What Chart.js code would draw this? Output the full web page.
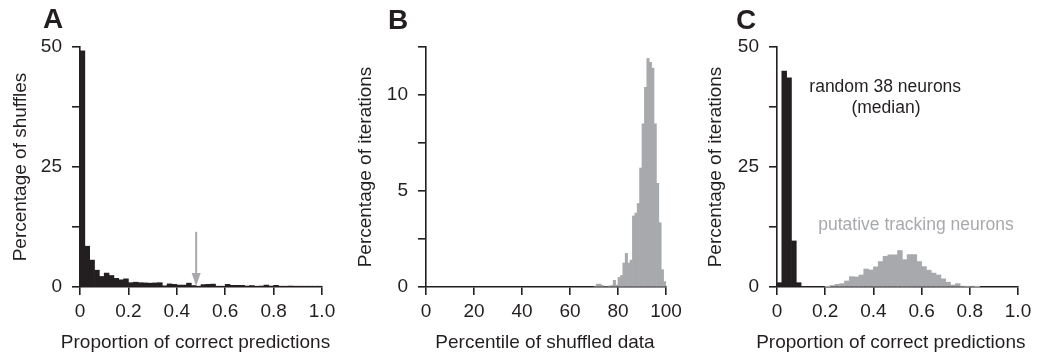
<!DOCTYPE html>
<html>
<head>
<meta charset="utf-8">
<script src="https://cdn.jsdelivr.net/npm/chart.js@4"></script>
<style>
  body { margin: 0; background: #fff; }
  #wrap { position: relative; width: 1037px; height: 355px; }
  canvas { position: absolute; top: 0; }
</style>
</head>
<body>
<div id="wrap">
  <canvas id="chartA" width="345" height="355" style="left:0"></canvas>
  <canvas id="chartB" width="345" height="355" style="left:345px"></canvas>
  <canvas id="chartC" width="347" height="355" style="left:690px"></canvas>
</div>
<script>
// ----- Data -----
// A: % of shuffles per 0.02 bin of proportion correct, starting at 0
const binA = { start: 0, width: 0.02 };
const shufflesA = [49.2, 8.5, 5.6, 3.5, 2.2, 2.9, 2.4, 1.8, 1.5, 1.7,
  0.9, 1.0, 0.9, 0.85, 0.8, 0.85, 0.9, 0.25, 0.65, 0.55,
  0.4, 0.4, 0.8, 0.3, 0.15, 0.5, 0.55, 0.6, 0.15, 0.1,
  0.55, 0.35, 0.35, 0.35, 0.2, 0.3, 0.15, 0.2, 0.4, 0.2,
  0.35, 0.15, 0.1, 0.2, 0.1, 0.1, 0.05, 0.05, 0.03, 0.03];
const arrowA = { x: 0.48, from: 11.5, to: 0.2 };

// B: % of iterations per 1-percentile bin, starting at 70
const binB = { start: 70, width: 1 };
const iterationsB = [0.05, 0.15, 0.15, 0.08, 0, 0, 0.05, 0.08, 0.35, 0.1,
  0.5, 0.6, 1.25, 1.75, 1.25, 1.4, 3.7, 3.85, 4.35, 6.2,
  8.5, 10.4, 11.9, 11.7, 11.4, 8.5, 5.4, 3.35, 0.9, 0.28];

// C: random 38 neurons (black) and putative tracking neurons (gray), 0.02 bins
const binCRandom = { start: 0, width: 0.02 };
const randomC = [0.9, 45, 43.6, 9.6, 0.9];
const binCTracking = { start: 0.2, width: 0.02 };
const trackingC = [0.05, 0.3, 0.55, 0.7, 1.25, 2.15, 2.1, 2.5, 3.75, 3.55,
  4.2, 5.3, 6.4, 6.7, 6.7, 7.6, 5.7, 6.75, 6.75, 5.3,
  4.25, 3.5, 2.9, 2.5, 1.7, 1.0, 0.4, 0.7, 0.15, 0.1, 0.15, 0.05];

const INK = '#231f20';
const GRAY = '#a7a9ac';
const FONT = '"Liberation Sans", Arial, sans-serif';

function toBars(bin, values) {
    return values.map((v, i) => ({ x: bin.start + bin.width * (i + 0.5), y: v }));
}

function histSet(bin, values, color) {
    return {
        data: toBars(bin, values), backgroundColor: color, borderWidth: 0,
        barPercentage: 1, categoryPercentage: 1, grouped: false
    };
}

// panel letters, x titles, annotations and the arrow
const panelText = {
    id: 'panelText',
    afterDraw(chart, args, opts) {
        const ctx = chart.ctx;
        const xs = chart.scales.x, ys = chart.scales.y;
        ctx.save();
        ctx.textBaseline = 'alphabetic';
        (opts.items || []).forEach(t => {
            ctx.font = t.font;
            ctx.fillStyle = t.color || INK;
            ctx.textAlign = t.align || 'left';
            const px = t.px != null ? t.px : xs.getPixelForValue(t.x);
            const py = t.py != null ? t.py : ys.getPixelForValue(t.y);
            ctx.fillText(t.text, px, py);
        });
        if (opts.arrow) {
            const a = opts.arrow;
            const px = xs.getPixelForValue(a.x);
            const y0 = ys.getPixelForValue(a.from);
            const y1 = ys.getPixelForValue(a.to);
            ctx.strokeStyle = GRAY;
            ctx.fillStyle = GRAY;
            ctx.lineWidth = 2;
            ctx.beginPath();
            ctx.moveTo(px, y0);
            ctx.lineTo(px, y1 - 10);
            ctx.stroke();
            ctx.beginPath();
            ctx.moveTo(px - 4.5, y1 - 13);
            ctx.lineTo(px + 4.5, y1 - 13);
            ctx.lineTo(px, y1);
            ctx.closePath();
            ctx.fill();
        }
        ctx.restore();
    }
};

function makeHist(id, cfg) {
    const gridOpts = { drawOnChartArea: false, drawTicks: true, tickLength: 8, color: INK, lineWidth: 1.6 };
    const borderOpts = { display: true, color: INK, width: 1.6 };
    const texts = cfg.texts.concat([
        { text: cfg.xTitle, font: '19px ' + FONT, align: 'center', px: cfg.xTitleX, py: 348 }
    ]);
    return new Chart(document.getElementById(id), {
        type: 'bar',
        data: { datasets: cfg.datasets },
        options: {
            responsive: false,
            animation: false,
            layout: { padding: { top: 47, right: cfg.padRight, bottom: 0, left: 0 } },
            plugins: {
                legend: { display: false },
                tooltip: { enabled: false },
                panelText: { items: texts, arrow: cfg.arrow }
            },
            scales: {
                x: {
                    type: 'linear', min: cfg.xMin, max: cfg.xMax, offset: false,
                    ticks: {
                        stepSize: cfg.xStep, padding: 5, color: INK, maxRotation: 0, autoSkip: false,
                        font: { family: FONT, size: 19 },
                        callback: cfg.xLabel
                    },
                    grid: Object.assign({ offset: false }, gridOpts),
                    border: borderOpts,
                    afterFit: s => { s.height = 68; }
                },
                y: {
                    min: 0, max: cfg.yMax,
                    ticks: {
                        stepSize: cfg.yStep, padding: 10, color: INK,
                        font: { family: FONT, size: 19 },
                        callback: v => (v % cfg.yLabelEvery === 0 ? v : '')
                    },
                    grid: gridOpts,
                    border: borderOpts,
                    title: { display: true, text: cfg.yTitle, color: INK, font: { family: FONT, size: 19 }, padding: { top: cfg.yTitlePad, bottom: 0 } },
                    afterFit: s => { s.width = cfg.yWidth; }
                }
            }
        },
        plugins: [panelText]
    });
}

const propLabel = v => (v === 0 ? '0' : v.toFixed(1));
const letterFont = 'bold 28px ' + FONT;

makeHist('chartA', {
    datasets: [histSet(binA, shufflesA, INK)],
    xMin: 0, xMax: 1, xStep: 0.2, xLabel: propLabel,
    yMax: 50, yStep: 12.5, yLabelEvery: 25,
    xTitle: 'Proportion of correct predictions', yTitle: 'Percentage of shuffles',
    xTitleX: 195.5, yWidth: 80, padRight: 23, yTitlePad: 9,
    arrow: arrowA,
    texts: [{ text: 'A', font: letterFont, px: 43, py: 28 }]
});

makeHist('chartB', {
    datasets: [histSet(binB, iterationsB, GRAY)],
    xMin: 0, xMax: 100, xStep: 20, xLabel: v => v,
    yMax: 12.5, yStep: 2.5, yLabelEvery: 5,
    xTitle: 'Percentile of shuffled data', yTitle: 'Percentage of iterations',
    xTitleX: 200, yWidth: 81, padRight: 24, yTitlePad: 9,
    texts: [{ text: 'B', font: letterFont, px: 43, py: 29 }]
});

makeHist('chartC', {
    datasets: [histSet(binCRandom, randomC, INK), histSet(binCTracking, trackingC, GRAY)],
    xMin: 0, xMax: 1, xStep: 0.2, xLabel: propLabel,
    yMax: 50, yStep: 12.5, yLabelEvery: 25,
    xTitle: 'Proportion of correct predictions', yTitle: 'Percentage of iterations',
    xTitleX: 200.8, yWidth: 87, padRight: 19, yTitlePad: 14,
    texts: [
        { text: 'C', font: letterFont, px: 46, py: 29 },
        { text: 'random 38 neurons', font: '17.5px ' + FONT, align: 'center', x: 0.449, y: 40.6 },
        { text: '(median)', font: '17.5px ' + FONT, align: 'center', x: 0.452, y: 36.2 },
        { text: 'putative tracking neurons', font: '17.5px ' + FONT, align: 'center', color: GRAY, x: 0.577, y: 11.8 }
    ]
});
</script>
</body>
</html>
